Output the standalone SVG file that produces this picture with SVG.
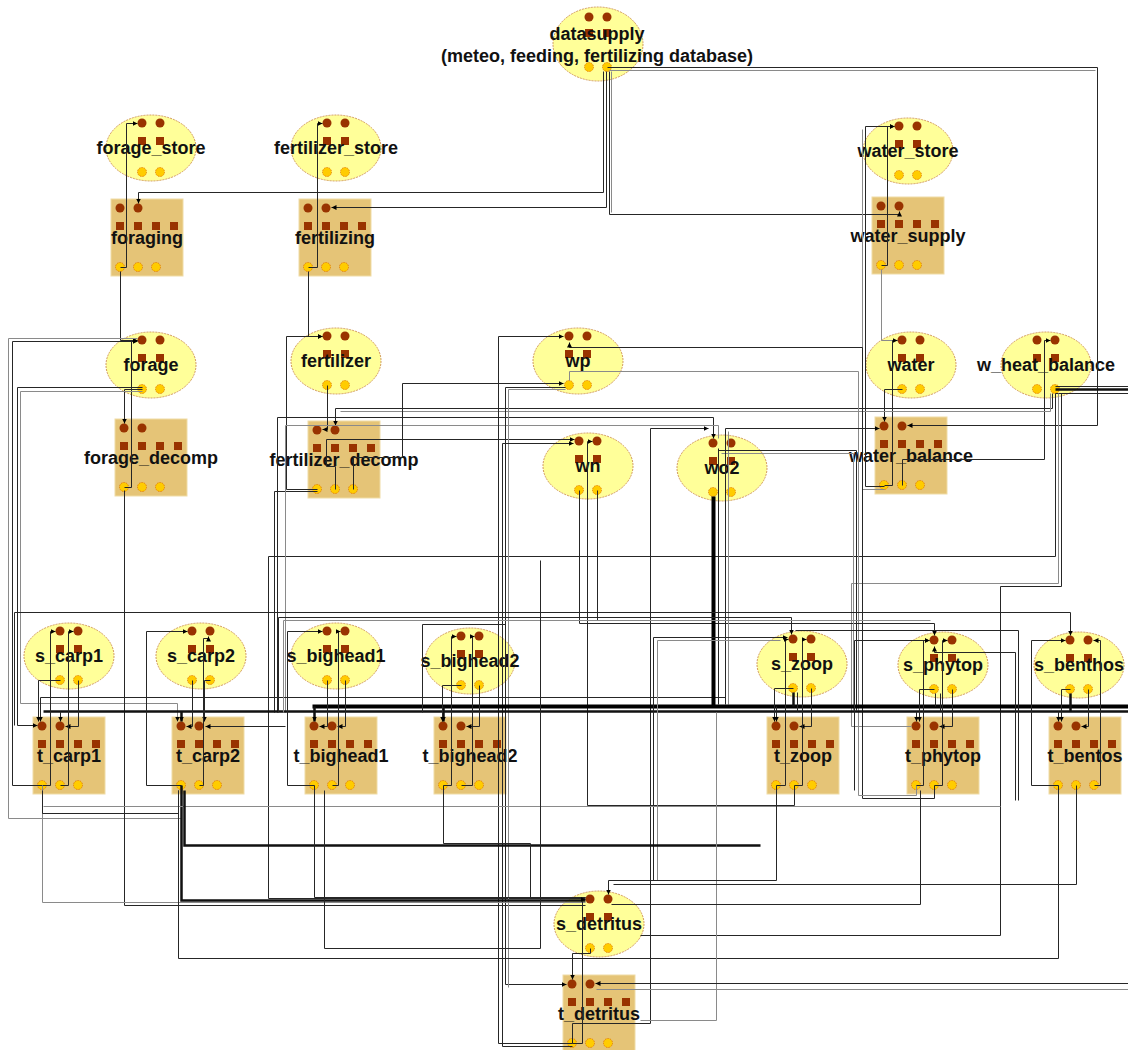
<svg xmlns="http://www.w3.org/2000/svg" width="1128" height="1050" viewBox="0 0 1128 1050">
<defs>
<style>
.e{fill:#ffff99;stroke:#d29a5a;stroke-width:1;stroke-dasharray:2 1}
.r{fill:#e5c477;stroke:#efdca6;stroke-width:1}
.i,.q{fill:#993300}
.o{fill:#ffcc00;stroke:#e07000;stroke-width:.8;stroke-dasharray:1.5 1}
.t{font-family:"Liberation Sans",Arial,sans-serif;font-weight:bold;font-size:18px;fill:#111;text-anchor:middle}
.w{fill:none;stroke:#262626;stroke-width:1}
.g{fill:none;stroke:#8a8a8a;stroke-width:1}
.k{fill:none;stroke:#000;stroke-width:4}
.k2{fill:none;stroke:#111;stroke-width:2.5}
.a{marker-end:url(#ar)}
</style>
<marker id="ar" markerWidth="6" markerHeight="5" refX="5" refY="2.5" orient="auto" markerUnits="userSpaceOnUse"><path d="M0,0 L5,2.5 L0,5 z" fill="#000"/></marker>
</defs>
<rect width="1128" height="1050" fill="#fff"/>

<g id="datasupply"><ellipse class="e" cx="598" cy="44" rx="45" ry="37"/><circle class="i" cx="589" cy="17" r="4.5"/><circle class="i" cx="607" cy="17" r="4.5"/><rect class="q" x="585" y="29" width="8" height="8"/><rect class="q" x="603" y="29" width="8" height="8"/><circle class="o" cx="589" cy="67" r="4.5"/><circle class="o" cx="607" cy="67" r="4.5"/><text class="t" x="597" y="40">datasupply</text><text class="t" x="597" y="62">(meteo, feeding, fertilizing database)</text></g>
<g id="forage_store"><ellipse class="e" cx="151" cy="148" rx="45" ry="33"/><circle class="i" cx="142" cy="123" r="4.5"/><circle class="i" cx="160" cy="123" r="4.5"/><rect class="q" x="138" y="137" width="8" height="8"/><rect class="q" x="156" y="137" width="8" height="8"/><circle class="o" cx="142" cy="172" r="4.5"/><circle class="o" cx="160" cy="172" r="4.5"/><text class="t" x="151" y="154">forage_store</text></g>
<g id="fertilizer_store"><ellipse class="e" cx="336" cy="148" rx="45" ry="33"/><circle class="i" cx="327" cy="123" r="4.5"/><circle class="i" cx="345" cy="123" r="4.5"/><rect class="q" x="323" y="137" width="8" height="8"/><rect class="q" x="341" y="137" width="8" height="8"/><circle class="o" cx="327" cy="172" r="4.5"/><circle class="o" cx="345" cy="172" r="4.5"/><text class="t" x="336" y="154">fertilizer_store</text></g>
<g id="water_store"><ellipse class="e" cx="908" cy="151" rx="45" ry="33"/><circle class="i" cx="899" cy="126" r="4.5"/><circle class="i" cx="917" cy="126" r="4.5"/><rect class="q" x="895" y="140" width="8" height="8"/><rect class="q" x="913" y="140" width="8" height="8"/><circle class="o" cx="899" cy="175" r="4.5"/><circle class="o" cx="917" cy="175" r="4.5"/><text class="t" x="908" y="157">water_store</text></g>
<g id="forage"><ellipse class="e" cx="151" cy="365" rx="45" ry="33"/><circle class="i" cx="142" cy="340" r="4.5"/><circle class="i" cx="160" cy="340" r="4.5"/><rect class="q" x="138" y="354" width="8" height="8"/><rect class="q" x="156" y="354" width="8" height="8"/><circle class="o" cx="142" cy="389" r="4.5"/><circle class="o" cx="160" cy="389" r="4.5"/><text class="t" x="151" y="371">forage</text></g>
<g id="fertilizer"><ellipse class="e" cx="336" cy="361" rx="45" ry="33"/><circle class="i" cx="327" cy="336" r="4.5"/><circle class="i" cx="345" cy="336" r="4.5"/><rect class="q" x="323" y="350" width="8" height="8"/><rect class="q" x="341" y="350" width="8" height="8"/><circle class="o" cx="327" cy="385" r="4.5"/><circle class="o" cx="345" cy="385" r="4.5"/><text class="t" x="336" y="367">fertilizer</text></g>
<g id="wp"><ellipse class="e" cx="578" cy="361" rx="45" ry="33"/><circle class="i" cx="569" cy="336" r="4.5"/><circle class="i" cx="587" cy="336" r="4.5"/><rect class="q" x="565" y="350" width="8" height="8"/><rect class="q" x="583" y="350" width="8" height="8"/><circle class="o" cx="569" cy="385" r="4.5"/><circle class="o" cx="587" cy="385" r="4.5"/><text class="t" x="578" y="367">wp</text></g>
<g id="water"><ellipse class="e" cx="911" cy="365" rx="45" ry="33"/><circle class="i" cx="902" cy="340" r="4.5"/><circle class="i" cx="920" cy="340" r="4.5"/><rect class="q" x="898" y="354" width="8" height="8"/><rect class="q" x="916" y="354" width="8" height="8"/><circle class="o" cx="902" cy="389" r="4.5"/><circle class="o" cx="920" cy="389" r="4.5"/><text class="t" x="911" y="371">water</text></g>
<g id="w_heat_balance"><ellipse class="e" cx="1046" cy="365" rx="45" ry="33"/><circle class="i" cx="1037" cy="340" r="4.5"/><circle class="i" cx="1055" cy="340" r="4.5"/><rect class="q" x="1033" y="354" width="8" height="8"/><rect class="q" x="1051" y="354" width="8" height="8"/><circle class="o" cx="1037" cy="389" r="4.5"/><circle class="o" cx="1055" cy="389" r="4.5"/><text class="t" x="1046" y="371">w_heat_balance</text></g>
<g id="wn"><ellipse class="e" cx="588" cy="466" rx="45" ry="33"/><circle class="i" cx="579" cy="441" r="4.5"/><circle class="i" cx="597" cy="441" r="4.5"/><rect class="q" x="575" y="455" width="8" height="8"/><rect class="q" x="593" y="455" width="8" height="8"/><circle class="o" cx="579" cy="490" r="4.5"/><circle class="o" cx="597" cy="490" r="4.5"/><text class="t" x="588" y="472">wn</text></g>
<g id="wo2"><ellipse class="e" cx="722" cy="468" rx="45" ry="33"/><circle class="i" cx="713" cy="443" r="4.5"/><circle class="i" cx="731" cy="443" r="4.5"/><rect class="q" x="709" y="457" width="8" height="8"/><rect class="q" x="727" y="457" width="8" height="8"/><circle class="o" cx="713" cy="492" r="4.5"/><circle class="o" cx="731" cy="492" r="4.5"/><text class="t" x="722" y="474">wo2</text></g>
<g id="s_carp1"><ellipse class="e" cx="69" cy="656" rx="45" ry="33"/><circle class="i" cx="60" cy="631" r="4.5"/><circle class="i" cx="78" cy="631" r="4.5"/><rect class="q" x="56" y="645" width="8" height="8"/><rect class="q" x="74" y="645" width="8" height="8"/><circle class="o" cx="60" cy="680" r="4.5"/><circle class="o" cx="78" cy="680" r="4.5"/><text class="t" x="69" y="662">s_carp1</text></g>
<g id="s_carp2"><ellipse class="e" cx="201" cy="656" rx="45" ry="33"/><circle class="i" cx="192" cy="631" r="4.5"/><circle class="i" cx="210" cy="631" r="4.5"/><rect class="q" x="188" y="645" width="8" height="8"/><rect class="q" x="206" y="645" width="8" height="8"/><circle class="o" cx="192" cy="680" r="4.5"/><circle class="o" cx="210" cy="680" r="4.5"/><text class="t" x="201" y="662">s_carp2</text></g>
<g id="s_bighead1"><ellipse class="e" cx="336" cy="656" rx="45" ry="33"/><circle class="i" cx="327" cy="631" r="4.5"/><circle class="i" cx="345" cy="631" r="4.5"/><rect class="q" x="323" y="645" width="8" height="8"/><rect class="q" x="341" y="645" width="8" height="8"/><circle class="o" cx="327" cy="680" r="4.5"/><circle class="o" cx="345" cy="680" r="4.5"/><text class="t" x="336" y="662">s_bighead1</text></g>
<g id="s_bighead2"><ellipse class="e" cx="470" cy="661" rx="45" ry="33"/><circle class="i" cx="461" cy="636" r="4.5"/><circle class="i" cx="479" cy="636" r="4.5"/><rect class="q" x="457" y="650" width="8" height="8"/><rect class="q" x="475" y="650" width="8" height="8"/><circle class="o" cx="461" cy="685" r="4.5"/><circle class="o" cx="479" cy="685" r="4.5"/><text class="t" x="470" y="667">s_bighead2</text></g>
<g id="s_zoop"><ellipse class="e" cx="802" cy="664" rx="45" ry="33"/><circle class="i" cx="793" cy="639" r="4.5"/><circle class="i" cx="811" cy="639" r="4.5"/><rect class="q" x="789" y="653" width="8" height="8"/><rect class="q" x="807" y="653" width="8" height="8"/><circle class="o" cx="793" cy="688" r="4.5"/><circle class="o" cx="811" cy="688" r="4.5"/><text class="t" x="802" y="670">s_zoop</text></g>
<g id="s_phytop"><ellipse class="e" cx="943" cy="665" rx="45" ry="33"/><circle class="i" cx="934" cy="640" r="4.5"/><circle class="i" cx="952" cy="640" r="4.5"/><rect class="q" x="930" y="654" width="8" height="8"/><rect class="q" x="948" y="654" width="8" height="8"/><circle class="o" cx="934" cy="689" r="4.5"/><circle class="o" cx="952" cy="689" r="4.5"/><text class="t" x="943" y="671">s_phytop</text></g>
<g id="s_benthos"><ellipse class="e" cx="1079" cy="665" rx="45" ry="33"/><circle class="i" cx="1070" cy="640" r="4.5"/><circle class="i" cx="1088" cy="640" r="4.5"/><rect class="q" x="1066" y="654" width="8" height="8"/><rect class="q" x="1084" y="654" width="8" height="8"/><circle class="o" cx="1070" cy="689" r="4.5"/><circle class="o" cx="1088" cy="689" r="4.5"/><text class="t" x="1079" y="671">s_benthos</text></g>
<g id="s_detritus"><ellipse class="e" cx="599" cy="924" rx="45" ry="33"/><circle class="i" cx="590" cy="899" r="4.5"/><circle class="i" cx="608" cy="899" r="4.5"/><rect class="q" x="586" y="913" width="8" height="8"/><rect class="q" x="604" y="913" width="8" height="8"/><circle class="o" cx="590" cy="948" r="4.5"/><circle class="o" cx="608" cy="948" r="4.5"/><text class="t" x="599" y="930">s_detritus</text></g>

<g id="foraging"><rect class="r" x="111" y="199" width="72" height="77"/><circle class="i" cx="120" cy="208" r="4.5"/><circle class="i" cx="138" cy="208" r="4.5"/><rect class="q" x="116" y="222" width="8" height="8"/><rect class="q" x="134" y="222" width="8" height="8"/><rect class="q" x="152" y="222" width="8" height="8"/><rect class="q" x="170" y="222" width="8" height="8"/><circle class="o" cx="120" cy="267" r="4.5"/><circle class="o" cx="138" cy="267" r="4.5"/><circle class="o" cx="156" cy="267" r="4.5"/><text class="t" x="147" y="244">foraging</text></g>
<g id="fertilizing"><rect class="r" x="299" y="199" width="72" height="77"/><circle class="i" cx="308" cy="208" r="4.5"/><circle class="i" cx="326" cy="208" r="4.5"/><rect class="q" x="304" y="222" width="8" height="8"/><rect class="q" x="322" y="222" width="8" height="8"/><rect class="q" x="340" y="222" width="8" height="8"/><rect class="q" x="358" y="222" width="8" height="8"/><circle class="o" cx="308" cy="267" r="4.5"/><circle class="o" cx="326" cy="267" r="4.5"/><circle class="o" cx="344" cy="267" r="4.5"/><text class="t" x="335" y="244">fertilizing</text></g>
<g id="water_supply"><rect class="r" x="872" y="197" width="72" height="77"/><circle class="i" cx="881" cy="206" r="4.5"/><circle class="i" cx="899" cy="206" r="4.5"/><rect class="q" x="877" y="220" width="8" height="8"/><rect class="q" x="895" y="220" width="8" height="8"/><rect class="q" x="913" y="220" width="8" height="8"/><rect class="q" x="931" y="220" width="8" height="8"/><circle class="o" cx="881" cy="265" r="4.5"/><circle class="o" cx="899" cy="265" r="4.5"/><circle class="o" cx="917" cy="265" r="4.5"/><text class="t" x="908" y="242">water_supply</text></g>
<g id="forage_decomp"><rect class="r" x="115" y="419" width="72" height="77"/><circle class="i" cx="124" cy="428" r="4.5"/><circle class="i" cx="142" cy="428" r="4.5"/><rect class="q" x="120" y="442" width="8" height="8"/><rect class="q" x="138" y="442" width="8" height="8"/><rect class="q" x="156" y="442" width="8" height="8"/><rect class="q" x="174" y="442" width="8" height="8"/><circle class="o" cx="124" cy="487" r="4.5"/><circle class="o" cx="142" cy="487" r="4.5"/><circle class="o" cx="160" cy="487" r="4.5"/><text class="t" x="151" y="464">forage_decomp</text></g>
<g id="fertilizer_decomp"><rect class="r" x="308" y="421" width="72" height="77"/><circle class="i" cx="317" cy="430" r="4.5"/><circle class="i" cx="335" cy="430" r="4.5"/><rect class="q" x="313" y="444" width="8" height="8"/><rect class="q" x="331" y="444" width="8" height="8"/><rect class="q" x="349" y="444" width="8" height="8"/><rect class="q" x="367" y="444" width="8" height="8"/><circle class="o" cx="317" cy="489" r="4.5"/><circle class="o" cx="335" cy="489" r="4.5"/><circle class="o" cx="353" cy="489" r="4.5"/><text class="t" x="344" y="466">fertilizer_decomp</text></g>
<g id="water_balance"><rect class="r" x="875" y="417" width="72" height="77"/><circle class="i" cx="884" cy="426" r="4.5"/><circle class="i" cx="902" cy="426" r="4.5"/><rect class="q" x="880" y="440" width="8" height="8"/><rect class="q" x="898" y="440" width="8" height="8"/><rect class="q" x="916" y="440" width="8" height="8"/><rect class="q" x="934" y="440" width="8" height="8"/><circle class="o" cx="884" cy="485" r="4.5"/><circle class="o" cx="902" cy="485" r="4.5"/><circle class="o" cx="920" cy="485" r="4.5"/><text class="t" x="911" y="462">water_balance</text></g>
<g id="t_carp1"><rect class="r" x="33" y="717" width="72" height="77"/><circle class="i" cx="42" cy="726" r="4.5"/><circle class="i" cx="60" cy="726" r="4.5"/><rect class="q" x="38" y="740" width="8" height="8"/><rect class="q" x="56" y="740" width="8" height="8"/><rect class="q" x="74" y="740" width="8" height="8"/><rect class="q" x="92" y="740" width="8" height="8"/><circle class="o" cx="42" cy="785" r="4.5"/><circle class="o" cx="60" cy="785" r="4.5"/><circle class="o" cx="78" cy="785" r="4.5"/><text class="t" x="69" y="762">t_carp1</text></g>
<g id="t_carp2"><rect class="r" x="172" y="717" width="72" height="77"/><circle class="i" cx="181" cy="726" r="4.5"/><circle class="i" cx="199" cy="726" r="4.5"/><rect class="q" x="177" y="740" width="8" height="8"/><rect class="q" x="195" y="740" width="8" height="8"/><rect class="q" x="213" y="740" width="8" height="8"/><rect class="q" x="231" y="740" width="8" height="8"/><circle class="o" cx="181" cy="785" r="4.5"/><circle class="o" cx="199" cy="785" r="4.5"/><circle class="o" cx="217" cy="785" r="4.5"/><text class="t" x="208" y="762">t_carp2</text></g>
<g id="t_bighead1"><rect class="r" x="305" y="717" width="72" height="77"/><circle class="i" cx="314" cy="726" r="4.5"/><circle class="i" cx="332" cy="726" r="4.5"/><rect class="q" x="310" y="740" width="8" height="8"/><rect class="q" x="328" y="740" width="8" height="8"/><rect class="q" x="346" y="740" width="8" height="8"/><rect class="q" x="364" y="740" width="8" height="8"/><circle class="o" cx="314" cy="785" r="4.5"/><circle class="o" cx="332" cy="785" r="4.5"/><circle class="o" cx="350" cy="785" r="4.5"/><text class="t" x="341" y="762">t_bighead1</text></g>
<g id="t_bighead2"><rect class="r" x="434" y="717" width="72" height="77"/><circle class="i" cx="443" cy="726" r="4.5"/><circle class="i" cx="461" cy="726" r="4.5"/><rect class="q" x="439" y="740" width="8" height="8"/><rect class="q" x="457" y="740" width="8" height="8"/><rect class="q" x="475" y="740" width="8" height="8"/><rect class="q" x="493" y="740" width="8" height="8"/><circle class="o" cx="443" cy="785" r="4.5"/><circle class="o" cx="461" cy="785" r="4.5"/><circle class="o" cx="479" cy="785" r="4.5"/><text class="t" x="470" y="762">t_bighead2</text></g>
<g id="t_zoop"><rect class="r" x="767" y="717" width="72" height="77"/><circle class="i" cx="776" cy="726" r="4.5"/><circle class="i" cx="794" cy="726" r="4.5"/><rect class="q" x="772" y="740" width="8" height="8"/><rect class="q" x="790" y="740" width="8" height="8"/><rect class="q" x="808" y="740" width="8" height="8"/><rect class="q" x="826" y="740" width="8" height="8"/><circle class="o" cx="776" cy="785" r="4.5"/><circle class="o" cx="794" cy="785" r="4.5"/><circle class="o" cx="812" cy="785" r="4.5"/><text class="t" x="803" y="762">t_zoop</text></g>
<g id="t_phytop"><rect class="r" x="907" y="717" width="72" height="77"/><circle class="i" cx="916" cy="726" r="4.5"/><circle class="i" cx="934" cy="726" r="4.5"/><rect class="q" x="912" y="740" width="8" height="8"/><rect class="q" x="930" y="740" width="8" height="8"/><rect class="q" x="948" y="740" width="8" height="8"/><rect class="q" x="966" y="740" width="8" height="8"/><circle class="o" cx="916" cy="785" r="4.5"/><circle class="o" cx="934" cy="785" r="4.5"/><circle class="o" cx="952" cy="785" r="4.5"/><text class="t" x="943" y="762">t_phytop</text></g>
<g id="t_bentos"><rect class="r" x="1049" y="717" width="72" height="77"/><circle class="i" cx="1058" cy="726" r="4.5"/><circle class="i" cx="1076" cy="726" r="4.5"/><rect class="q" x="1054" y="740" width="8" height="8"/><rect class="q" x="1072" y="740" width="8" height="8"/><rect class="q" x="1090" y="740" width="8" height="8"/><rect class="q" x="1108" y="740" width="8" height="8"/><circle class="o" cx="1058" cy="785" r="4.5"/><circle class="o" cx="1076" cy="785" r="4.5"/><circle class="o" cx="1094" cy="785" r="4.5"/><text class="t" x="1085" y="762">t_bentos</text></g>
<g id="t_detritus"><rect class="r" x="563" y="975" width="72" height="77"/><circle class="i" cx="572" cy="984" r="4.5"/><circle class="i" cx="590" cy="984" r="4.5"/><rect class="q" x="568" y="998" width="8" height="8"/><rect class="q" x="586" y="998" width="8" height="8"/><rect class="q" x="604" y="998" width="8" height="8"/><rect class="q" x="622" y="998" width="8" height="8"/><circle class="o" cx="572" cy="1043" r="4.5"/><circle class="o" cx="590" cy="1043" r="4.5"/><circle class="o" cx="608" cy="1043" r="4.5"/><text class="t" x="599" y="1020">t_detritus</text></g>

<g id="connectors" transform="translate(0.5,0.5)">
<path class="w a" d="M607,67 H1097 V425 H907"/>
<path class="g" d="M609,70 H1095"/>
<path class="w a" d="M603,71 V192 H138 V203"/>
<path class="w a" d="M606,71 V207 H331"/>
<path class="w a" d="M609,71 V214 H899 V211"/>
<path class="g" d="M611,71 V212"/>
<path class="w a" d="M120,267 H126 V123 H137"/>
<path class="w a" d="M120,271 V340 H137"/>
<path class="w a" d="M308,267 H317 V123 H322"/>
<path class="w a" d="M308,271 V336 H322"/>
<path class="w a" d="M881,265 H887 V126 H894"/>
<path class="g" d="M881,269 V340 H897"/>
<path class="w a" d="M884,486 H865 V126 H894"/>
<path class="g" d="M884,489 H862 V129"/>
<path class="w a" d="M902,389 H884 V421"/>
<path class="w a" d="M884,485 H892 V340 H897"/>
<path class="w a" d="M902,485 V459 H1044 V340 H1050"/>
<path class="k2" d="M1055,389 H1128"/>
<path class="w" d="M1055,386 H1128"/>
<path class="w" d="M1055,393 H1128"/>
<path class="w a" d="M1052,393 V408 H335 V425"/>
<path class="g" d="M1050,393 V411 H340"/>
<path class="w" d="M1055,393 V556 H268 V898 H585"/>
<path class="g" d="M1058,393 V583 H851 V726 H911"/>
<path class="w" d="M1061,393 V586 H1000 V935 H640"/>

<path class="w a" d="M142,389 H124 V423"/>
<path class="w a" d="M124,487 H131 V340 H137"/>
<path class="w a" d="M142,387 H17 V725 H37"/>
<path class="g a" d="M142,391 H20 V703 H177 V721"/>
<path class="w a" d="M42,785 H12 V341 H137"/>
<path class="g" d="M181,785 V818 H8 V338 H137"/>
<path class="w" d="M124,490 V905 H585"/>
<path class="w a" d="M327,385 V429 H322"/>
<path class="w a" d="M317,489 H286 V336 H322"/>
<path class="w a" d="M335,489 V466 H326 V439 H574"/>
<path class="w" d="M317,491 H274 V712"/>
<path class="w a" d="M277,712 V417 H713 V438"/>
<path class="g" d="M285,712 V425 H718 V438"/>
<path class="w a" d="M353,489 V457 H402 V383 H563"/>

<path class="w a" d="M934,785 V798 H862 V347 H569 V342"/>
<path class="g" d="M916,785 V795 H858 V371 H569 V380"/>
<path class="w a" d="M572,1043 H498 V336 H563"/>
<path class="w a" d="M565,387 H505 V984 H566"/>
<path class="g" d="M565,389 H508 V987"/>
<path class="w a" d="M572,1046 H502 V443 H573"/>
<path class="w a" d="M794,785 V805 H587 V441 H592"/>
<path class="w a" d="M579,490 V623 H934 V635"/>
<path class="w" d="M597,490 V620"/>
<path class="w a" d="M572,1043 V1023 H650 V428 H708"/>
<path class="w a" d="M725,428 H879"/>
<path class="w" d="M725,431 V704"/>
<path class="g" d="M728,431 V704"/>
<path class="w" d="M718,448 V704"/>
<path class="w" d="M718,450 H856 V710"/>
<path class="g" d="M721,453 H853 V710"/>
<path class="w a" d="M725,428 V697 H40 V721"/>

<path class="k" d="M713,496 V706"/>
<path class="k" d="M312,706 H1128"/>
<path class="k2" d="M43,711 H1128"/>
<path class="k2 a" d="M181,711 V721"/>
<path class="k2 a" d="M314,706 V721"/>
<path class="k2 a" d="M443,706 V721"/>
<path class="w a" d="M776,706 V721"/>
<path class="w a" d="M916,711 V721"/>
<path class="w a" d="M1058,711 V721"/>
<path class="w a" d="M60,711 V721"/>
<path class="w a" d="M285,726 H205"/>
<path class="k2" d="M793,692 V706"/>
<path class="w" d="M797,692 V711"/>
<path class="w" d="M935,693 V706"/>
<path class="w" d="M940,693 V711"/>
<path class="k2" d="M1070,693 V711"/>

<path class="w a" d="M14,725 V612 H1070 V635"/>
<path class="w a" d="M278,712 V617 H791 V634"/>
<path class="g" d="M283,712 V620 H930"/>
<path class="w" d="M505,624 H422 V712"/>
<path class="w a" d="M653,880 V637 H787"/>
<path class="g" d="M657,880 V640 H780"/>
<path class="w" d="M795,630 H1018 V800"/>
<path class="w a" d="M854,790 V640 H929"/>
<path class="w a" d="M1015,800 V652 H934 V646"/>

<path class="w a" d="M60,680 H38 V721"/>
<path class="w a" d="M78,680 V726 H65"/>
<path class="w a" d="M42,785 H50 V631 H55"/>
<path class="w a" d="M60,785 H68 V631 H73"/>
<path class="w a" d="M192,680 V726 H186"/>
<path class="w a" d="M210,680 H204 V721"/>
<path class="w a" d="M181,785 H146 V631 H187"/>
<path class="w a" d="M199,785 H203 V638 H208 V636"/>
<path class="w a" d="M327,680 V726 H319"/>
<path class="w a" d="M345,680 V726 H337"/>
<path class="w a" d="M314,785 H287 V631 H322"/>
<path class="w a" d="M332,785 H338 V631 H340"/>
<path class="w a" d="M461,685 H442 V721"/>
<path class="w a" d="M479,685 V726 H466"/>
<path class="w a" d="M443,785 H451 V636 H456"/>
<path class="w a" d="M461,785 H472 V636 H474"/>
<path class="w a" d="M793,688 H774 V721"/>
<path class="w a" d="M811,688 V726 H799"/>
<path class="w a" d="M776,785 H785 V639 H788"/>
<path class="w a" d="M794,785 H802 V639 H806"/>
<path class="w a" d="M934,689 H919 V721"/>
<path class="w a" d="M952,689 V726 H939"/>
<path class="w a" d="M916,785 H923 V640 H929"/>
<path class="w a" d="M934,785 H942 V640 H947"/>
<path class="w a" d="M1070,689 H1061 V721"/>
<path class="w a" d="M1088,689 V726 H1081"/>
<path class="w a" d="M1058,785 H1031 V640 H1065"/>
<path class="w a" d="M1094,785 H1100 V640 H1093"/>

<path class="g" d="M42,785 V902 H585"/>
<path class="k2" d="M181,785 V900 H585"/>
<path class="g" d="M43,806 H1000"/>
<path class="w" d="M42,790 V813 H178 V790"/>
<path class="k2" d="M184,790 V845 H760"/>
<path class="w" d="M1058,785 V958 H178 V790"/>
<path class="w" d="M314,785 V897 H585"/>
<path class="w" d="M324,790 V948 H540 V560"/>
<path class="w" d="M443,785 V843 H530 V897 H585"/>
<path class="g" d="M716,712 V1020 H640"/>
<path class="w a" d="M776,785 V880 H608 V894"/>
<path class="w" d="M920,790 V904 H611"/>
<path class="w" d="M1076,785 V884 H613"/>
<path class="w a" d="M1128,983 H595"/>
<path class="g" d="M1128,989 H596"/>
<path class="w a" d="M590,948 V953 H572 V979"/>
<path class="w a" d="M572,1043 H582 V899 H585"/>
</g>
</svg>
